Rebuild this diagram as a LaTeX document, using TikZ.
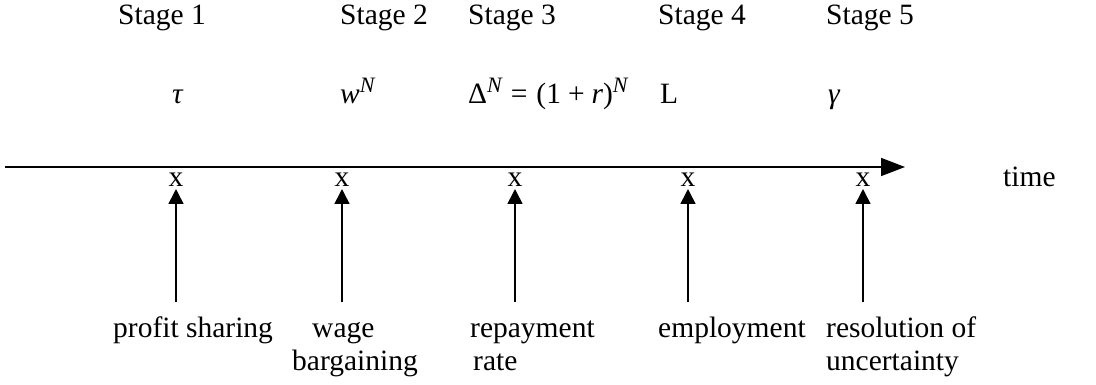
\documentclass[tikz,border=0pt]{standalone}
\usepackage{fontspec}
\setmainfont{Liberation Serif}
\usetikzlibrary{arrows.meta}
\newcommand\mysupN{\raisebox{11pt}{\fontsize{22}{22}\selectfont\itshape N}}
\begin{document}
\begin{tikzpicture}[x=1pt,y=-1pt,
  txt/.style={anchor=base west,inner sep=0pt,font=\fontsize{29.5}{35}\selectfont},
  xmark/.style={anchor=base,inner sep=0pt,font=\fontsize{29.5}{35}\selectfont},
  axis/.style={line width=1.6pt,-{Triangle[length=24pt,width=18pt]}},
  up/.style={line width=1.6pt,-{Triangle[length=15pt,width=15pt]}}]
\useasboundingbox (0,0) rectangle (1096,385);
% stage labels
\node[txt] (s1) at (118,25) {Stage 1};
\node[txt] (s2) at (340,25) {Stage 2};
\node[txt] (s3) at (468,25) {Stage 3};
\node[txt] (s4) at (658,25) {Stage 4};
\node[txt] (s5) at (826,25) {Stage 5};
% variables
\node[txt] (m1) at (172,104) {\itshape τ};
\node[txt] (m2) at (340,104) {{\itshape w}\mysupN};
\node[txt] (m3) at (468,104) {Δ\mysupN\hspace{9pt}=\hspace{9pt}(1\hspace{7pt}+\hspace{7pt}{\itshape r})\mysupN};
\node[txt] (m4) at (660,104) {L};
\node[txt] (m5) at (828,104) {\itshape γ};
% axis
\coordinate (axL) at (5,167);
\coordinate (axR) at (905,167);
\draw[axis] (axL) -- (axR);
\node[txt] (time) at (1003,187) {time};
% x marks
\node[xmark] (x1) at (176,187) {x};
\node[xmark] (x2) at (342,187) {x};
\node[xmark] (x3) at (515,187) {x};
\node[xmark] (x4) at (688,187) {x};
\node[xmark] (x5) at (863,187) {x};
% arrow ends
\foreach \i/\xx in {1/176,2/342,3/515,4/688,5/863}{
  \coordinate (t\i) at (\xx,189);
  \coordinate (b\i) at (\xx,302);
}
\foreach \i in {1,...,5}{ \draw[up] (b\i) -- (t\i); }
% bottom labels
\node[txt] (l1) at (113,337) {profit sharing};
\node[txt] (l2a) at (312,337) {wage};
\node[txt] (l2b) at (292,370) {bargaining};
\node[txt] (l3a) at (470,337) {repayment};
\node[txt] (l3b) at (473,370) {rate};
\node[txt] (l4) at (658,337) {employment};
\node[txt] (l5a) at (826,337) {resolution of};
\node[txt] (l5b) at (826,370) {uncertainty};
\end{tikzpicture}
\end{document}
